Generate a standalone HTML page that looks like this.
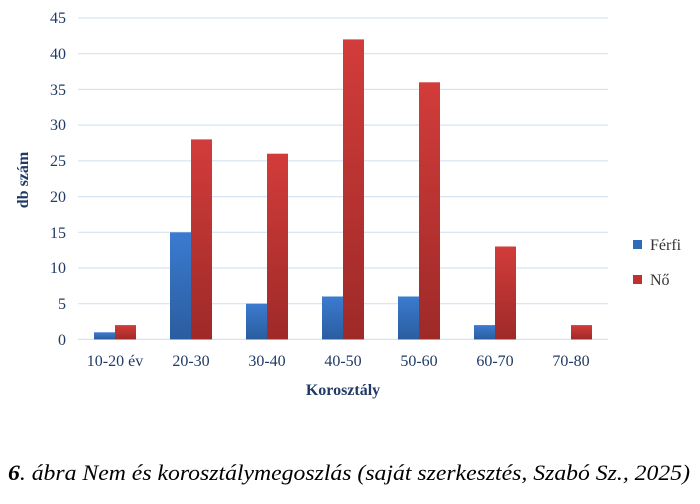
<!DOCTYPE html>
<html><head><meta charset="utf-8"><style>
body{margin:0;background:#fff;width:700px;height:499px;overflow:hidden}
svg{font-family:"Liberation Serif",serif}
</style></head><body>
<svg width="700" height="499" viewBox="0 0 700 499">
<defs>
<linearGradient id="b" x1="0" y1="0" x2="0" y2="1"><stop offset="0" stop-color="#3b7bd0"/><stop offset="1" stop-color="#2a5d9e"/></linearGradient>
<linearGradient id="r" x1="0" y1="0" x2="0" y2="1"><stop offset="0" stop-color="#d23c3a"/><stop offset="1" stop-color="#9e2a28"/></linearGradient>
</defs>
<g stroke="#d6e3f3" stroke-width="1.2">
<line x1="78" x2="608" y1="18" y2="18"/><line x1="78" x2="608" y1="53.7" y2="53.7"/><line x1="78" x2="608" y1="89.4" y2="89.4"/><line x1="78" x2="608" y1="125.1" y2="125.1"/><line x1="78" x2="608" y1="160.8" y2="160.8"/><line x1="78" x2="608" y1="196.6" y2="196.6"/><line x1="78" x2="608" y1="232.3" y2="232.3"/><line x1="78" x2="608" y1="268" y2="268"/><line x1="78" x2="608" y1="303.7" y2="303.7"/><line x1="78" x2="608" y1="339.4" y2="339.4"/>
</g>
<g fill="#1f3a66" font-size="16" text-anchor="end">
<text x="66" y="23">45</text><text x="66" y="59">40</text><text x="66" y="95">35</text><text x="66" y="130">30</text><text x="66" y="166">25</text><text x="66" y="202">20</text><text x="66" y="238">15</text><text x="66" y="273">10</text><text x="66" y="309">5</text><text x="66" y="345">0</text>
</g>
<g>
<rect x="94" y="332.3" width="21" height="7.1" fill="url(#b)"/><rect x="115" y="325.1" width="21" height="14.3" fill="url(#r)"/>
<rect x="170" y="232.3" width="21" height="107.1" fill="url(#b)"/><rect x="191" y="139.4" width="21" height="200" fill="url(#r)"/>
<rect x="246" y="303.7" width="21" height="35.7" fill="url(#b)"/><rect x="267" y="153.7" width="21" height="185.7" fill="url(#r)"/>
<rect x="322" y="296.5" width="21" height="42.9" fill="url(#b)"/><rect x="343" y="39.4" width="21" height="300" fill="url(#r)"/>
<rect x="398" y="296.5" width="21" height="42.9" fill="url(#b)"/><rect x="419" y="82.3" width="21" height="257.1" fill="url(#r)"/>
<rect x="474" y="325.1" width="21" height="14.3" fill="url(#b)"/><rect x="495" y="246.5" width="21" height="92.9" fill="url(#r)"/>
<rect x="571" y="325.1" width="21" height="14.3" fill="url(#r)"/>
</g>
<g fill="#1f3a66" font-size="16" text-anchor="middle">
<text x="115" y="366">10-20 év</text><text x="191" y="366">20-30</text><text x="267" y="366">30-40</text><text x="343" y="366">40-50</text><text x="419" y="366">50-60</text><text x="495" y="366">60-70</text><text x="571" y="366">70-80</text>
</g>
<text x="343" y="395" text-anchor="middle" font-size="16" font-weight="bold" fill="#1f3a66">Korosztály</text>
<text transform="translate(28,180) rotate(-90)" text-anchor="middle" font-size="16" font-weight="bold" fill="#1f3a66">db szám</text>
<rect x="633" y="240" width="9" height="9" fill="#2f6bb8"/><text x="650" y="250" font-size="16" fill="#333">Férfi</text>
<rect x="633" y="275" width="9" height="9" fill="#c0302e"/><text x="650" y="285" font-size="16" fill="#333">Nő</text>
<text x="8" y="480" font-size="22.5" font-style="italic" fill="#000" textLength="682" lengthAdjust="spacingAndGlyphs"><tspan font-weight="bold">6</tspan>. ábra Nem és korosztálymegoszlás (saját szerkesztés, Szabó Sz., 2025)</text>
</svg>
</body></html>
